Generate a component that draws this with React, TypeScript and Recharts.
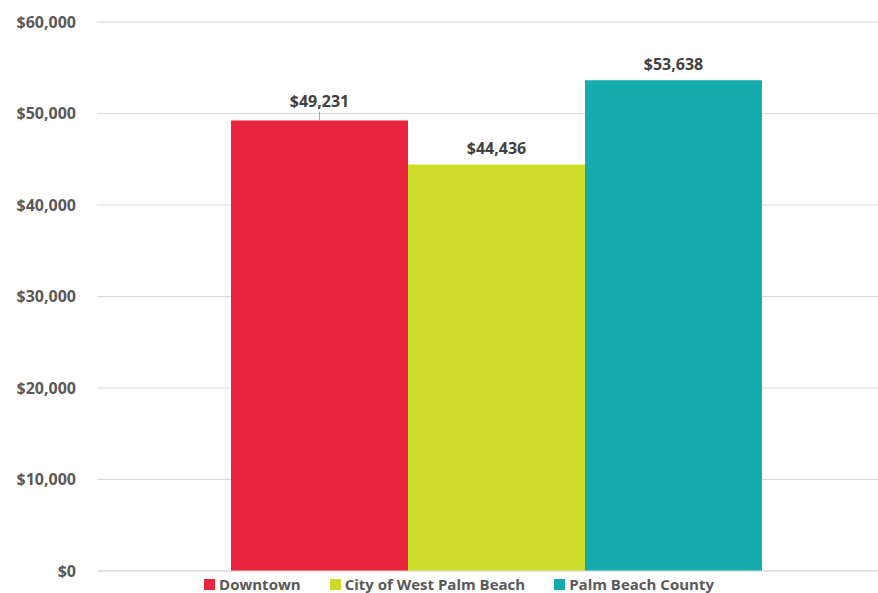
import React from "react";
import { BarChart, Bar, XAxis, YAxis, CartesianGrid, Legend, LabelList } from "recharts";

const categories = ["Median Household Income"];
const seriesNames = ["Downtown", "City of West Palm Beach", "Palm Beach County"];
const seriesValues = [49231, 44436, 53638];
const seriesColors = ["#e9243f", "#cddc29", "#16abac"];
const yTicks = [0, 10000, 20000, 30000, 40000, 50000, 60000];

const data = categories.map((name) => {
  const row: any = { name };
  seriesNames.forEach((s, i) => (row[s] = seriesValues[i]));
  return row;
});

const fmt = (v: number) => "$" + v.toLocaleString("en-US");
const FONT = "'Open Sans', sans-serif";

const makeLabel = (leader: boolean) => (props: any) => {
  const { x, y, width, value } = props;
  const cx = x + width / 2;
  const ty = leader ? y - 20 : y - 16;
  return (
    <g>
      {leader && <line x1={cx} x2={cx} y1={y - 9} y2={y} stroke="#a6a6a6" strokeWidth={1} />}
      <text x={cx} y={ty} textAnchor="middle" dominantBaseline="central" fill="#404040"
        fontFamily={FONT} fontWeight={700} fontSize={16}>
        {fmt(value)}
      </text>
    </g>
  );
};

const renderLegend = () => (
  <div style={{ display: "flex", justifyContent: "center", paddingLeft: 40, height: 18,
    fontFamily: FONT, fontWeight: 700, fontSize: 15, color: "#595959", lineHeight: "18px" }}>
    {seriesNames.map((s, i) => (
      <div key={s} style={{ display: "flex", alignItems: "center", marginRight: i < 2 ? 29 : 0 }}>
        <span style={{ display: "inline-block", width: 11, height: 11, background: seriesColors[i], marginRight: 4 }} />
        <span>{s}</span>
      </div>
    ))}
  </div>
);

export default function App() {
  return (
    <div style={{ position: "absolute", left: 0, top: 0, background: "#fff" }}>
      <BarChart width={878} height={593} data={data} barGap={0} barCategoryGap={115}
        margin={{ top: 22, right: 0, left: 0, bottom: 0 }}>
        <CartesianGrid vertical={false} stroke="#d9d9d9" />
        <XAxis dataKey="name" tick={false} tickLine={false} height={4} padding={{ left: 19, right: 0 }}
          axisLine={{ stroke: "#d9d9d9" }} />
        <YAxis width={97} domain={[0, 60000]} ticks={yTicks} tickFormatter={fmt} axisLine={false}
          tickLine={false} tickSize={0} tickMargin={21}
          tick={{ fill: "#595959", fontFamily: FONT, fontWeight: 700, fontSize: 16 }} />
        <Legend verticalAlign="bottom" content={renderLegend} wrapperStyle={{ height: 18 }} />
        {seriesNames.map((s, i) => (
          <Bar key={s} dataKey={s} fill={seriesColors[i]} isAnimationActive={false}>
            <LabelList dataKey={s} content={makeLabel(i === 0)} />
          </Bar>
        ))}
      </BarChart>
    </div>
  );
}
